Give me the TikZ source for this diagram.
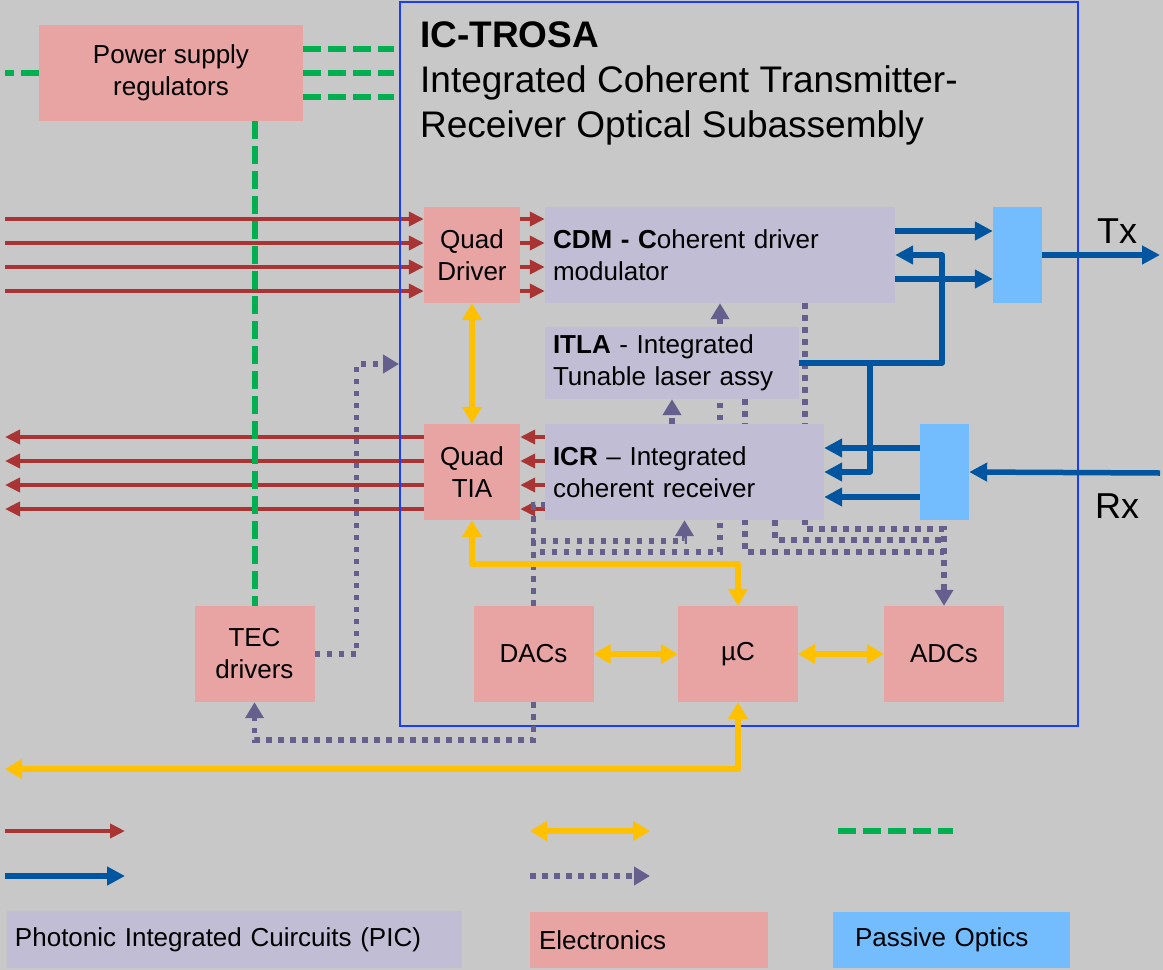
\documentclass[tikz,border=0pt]{standalone}
\usepackage{fontspec}
\setmainfont{Liberation Sans}
\usepackage{xcolor}
\usetikzlibrary{arrows.meta, positioning}

\definecolor{bggray}{HTML}{C8C8C8}
\definecolor{elecpink}{HTML}{E8A3A3}
\definecolor{piclav}{HTML}{C0BDD4}
\definecolor{optblue}{HTML}{73BDFF}
\definecolor{rfred}{HTML}{AA3333}
\definecolor{optdark}{HTML}{0055A0}
\definecolor{busyellow}{HTML}{FFC000}
\definecolor{ctlpurple}{HTML}{645F8C}
\definecolor{pwrgreen}{HTML}{00B050}
\definecolor{trosablue}{HTML}{1A3CFF}

\pgfdeclarelayer{back}
\pgfsetlayers{back,main}

\begin{document}
\begin{tikzpicture}[x=1pt, y=-1pt, >={Triangle[length=15pt,width=14pt]},
    every node/.style={font=\fontsize{26}{32}\selectfont, inner sep=0pt},
    elecbox/.style={fill=elecpink, minimum width=120pt, minimum height=96pt, align=center},
    picbox/.style={fill=piclav, minimum height=96pt, inner xsep=8pt, align=left},
    optbox/.style={fill=optblue, minimum width=49pt, minimum height=96pt},
    rfline/.style={draw=rfred, line width=4pt, ->},
    optline/.style={draw=optdark, line width=5.5pt, line join=round, -{Triangle[length=18pt,width=18pt]}},
    busline/.style={draw=busyellow, line width=6pt, line join=round, {Triangle[length=17pt,width=19pt]}-{Triangle[length=17pt,width=19pt]}},
    ctlline/.style={draw=ctlpurple, line width=5.5pt, dash pattern=on 5.5pt off 6.5pt, -{Triangle[length=16pt,width=18pt]}},
    pwrline/.style={draw=pwrgreen, line width=6pt, dash pattern=on 18pt off 7pt}]
    \useasboundingbox (0,0) rectangle (1163,970);

    % blocks
    \node[elecbox, minimum width=264pt] (PS) at (171,73) {Power supply\\regulators};
    \node[elecbox, minimum width=96pt] (QD) at (472,255) {Quad\\Driver};
    \node[picbox, text width=334pt] (CDM) at (720,255) {\textbf{CDM - C}oherent driver\\modulator};
    \node[picbox, text width=238pt, minimum height=72pt] (ITLA) at (672,363) {\textbf{ITLA} - Integrated\\Tunable laser assy};
    \node[elecbox, minimum width=96pt] (TIA) at (472,472) {Quad\\TIA};
    \node[picbox, text width=263pt] (ICR) at (684.5,472) {\textbf{ICR} -- Integrated\\coherent receiver};
    \node[optbox] (TxO) at (1017.5,255) {};
    \node[optbox] (RxO) at (944.5,472) {};
    \node[elecbox] (TEC) at (254.5,654) {TEC\\drivers};
    \node[elecbox] (DAC) at (533.5,654) {DACs};
    \node[elecbox] (uC) at (738,654) {µC};
    \node[elecbox] (ADC) at (944,654) {ADCs};

    \node[anchor=north west, align=left, font=\fontsize{37}{45}\selectfont] (title) at (420,21)
        {\textbf{IC-TROSA}\\Integrated Coherent Transmitter-\\Receiver Optical Subassembly};
    \node[font=\fontsize{36}{43}\selectfont] (txLbl) at (1117,231) {Tx};
    \node[font=\fontsize{36}{43}\selectfont] (rxLbl) at (1117,506) {Rx};

    \begin{pgfonlayer}{back}
        \fill[bggray] (0,0) rectangle (1163,970);
        % electrical data lanes
        \foreach \k in {0,...,3} {
            \coordinate (txIn\k) at (5,219+24*\k);
            \coordinate (rxOut\k) at (5,437+24*\k);
            \draw[rfline] (txIn\k) -- (txIn\k -| QD.west);
            \draw[rfline] (txIn\k -| QD.east) -- (txIn\k -| CDM.west);
            \draw[rfline] (rxOut\k -| TIA.west) -- (rxOut\k);
            \draw[rfline] (rxOut\k -| ICR.west) -- (rxOut\k -| TIA.east);
        }
        % supply
        \coordinate (psIn) at (5,73);
        \draw[pwrline] (PS.west) -- (psIn);
        \draw[pwrline] (PS.south -| TEC.north) -- (TEC.north);
        \node[draw=trosablue, line width=2pt, minimum width=678pt, minimum height=724pt] (trosa) at (739,364) {};
        \foreach \y in {49,73,97}
            \draw[pwrline, shorten >=5pt] (PS.east |- 0,\y) -- (trosa.west |- 0,\y);
        % control lines
        \draw[ctlline] (TEC.east) -- ++(42,0) |- (trosa.west |- 0,364);
        \draw[ctlline] (DAC.south) -- ++(0,38) -| (TEC.south);
        \draw[ctlline, -] (DAC.north) |- (ICR.west |- 0,505);
        \draw[ctlline] (DAC.north) -- ++(0,-65) -| (ICR.south);
        \draw[ctlline] (DAC.north) -- ++(0,-54) -| (CDM.south);
        \draw[ctlline] (ICR.north -| ITLA.south) -- (ITLA.south);
        \draw[ctlline, -] (ITLA.south -| 745,0) |- (ADC.north |- 0,552);
        \draw[ctlline, -] (ICR.south -| 775,0) |- (ADC.north |- 0,540);
        \draw[ctlline] (CDM.south -| 805,0) |- (ADC.north |- 0,529) -- (ADC.north);
    \end{pgfonlayer}

    % buses
    \coordinate (host) at (5,769);
    \draw[busline] (QD.south) -- (TIA.north);
    \draw[busline] (TIA.south) -- ++(0,44) -| (uC.north);
    \draw[busline] (DAC.east) -- (uC.west);
    \draw[busline] (uC.east) -- (ADC.west);
    \draw[busline] (uC.south) |- (host);

    % optical paths
    \coordinate (txOut) at (1160,255);
    \coordinate (rxIn) at (1160,473);
    \draw[optline] (CDM.east |- 0,231) -- (TxO.west |- 0,231);
    \draw[optline] (CDM.east |- 0,279) -- (TxO.west |- 0,279);
    \draw[optline] (ITLA.east) -- ++(143,0) |- (CDM.east);
    \draw[optline] (ITLA.east) -- ++(71,0) |- (ICR.east);
    \draw[optline] (RxO.west |- 0,448) -- (ICR.east |- 0,448);
    \draw[optline] (RxO.west |- 0,497) -- (ICR.east |- 0,497);
    \draw[optline] (TxO.east) -- (txOut);
    \draw[optline] (rxIn) -- (RxO.east);

    % legend
    \coordinate (lgRedA) at (5,831);   \coordinate (lgRedB) at (125,831);
    \coordinate (lgBlueA) at (5,876);  \coordinate (lgBlueB) at (125,876);
    \coordinate (lgBusA) at (530,831); \coordinate (lgBusB) at (650,831);
    \coordinate (lgCtlA) at (530,876); \coordinate (lgCtlB) at (650,876);
    \coordinate (lgPwrA) at (838,831); \coordinate (lgPwrB) at (953,831);
    \draw[rfline] (lgRedA) -- (lgRedB);
    \draw[optline] (lgBlueA) -- (lgBlueB);
    \draw[busline] (lgBusA) -- (lgBusB);
    \draw[ctlline] (lgCtlA) -- (lgCtlB);
    \draw[pwrline] (lgPwrA) -- (lgPwrB);
    \node[picbox, minimum height=57pt, text width=439pt] (lgPIC) at (234.5,939.5) {Photonic Integrated Cuircuits (PIC)};
    \node[elecbox, minimum height=56pt, inner xsep=9pt, text width=220pt, align=left] (lgElec) at (649,940) {Electronics};
    \node[optbox, minimum height=56pt, inner xsep=22pt, text width=193pt, align=left] (lgOpt) at (951.5,940) {Passive Optics};
\end{tikzpicture}
\end{document}
